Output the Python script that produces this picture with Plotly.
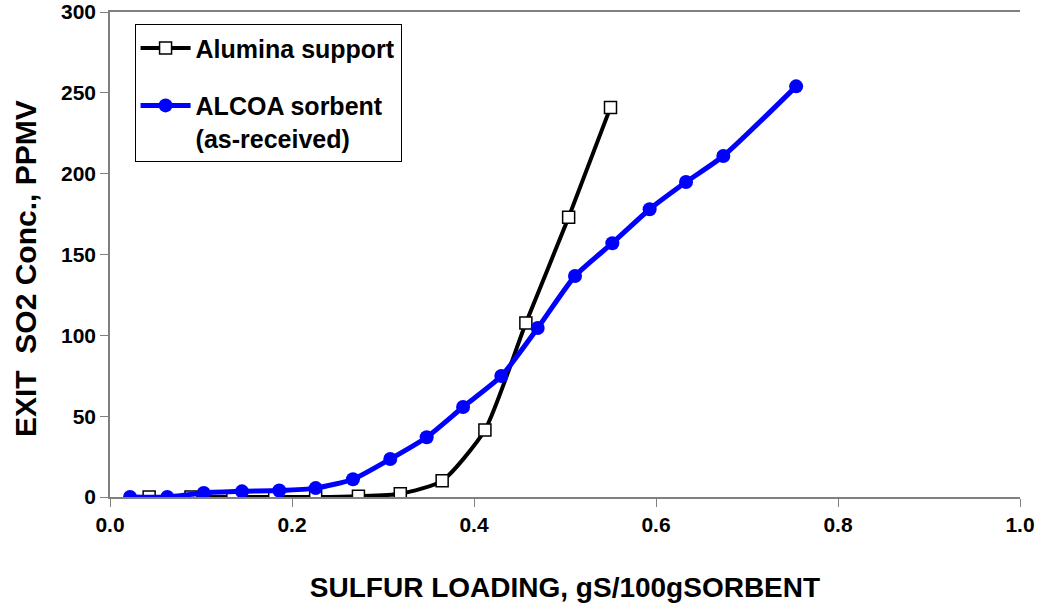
import plotly.graph_objects as go

alumina_x = [0.043, 0.089, 0.135, 0.181, 0.226, 0.273, 0.319, 0.365, 0.412, 0.457, 0.504, 0.550]
alumina_y = [0.0, 0.0, 0.0, 0.0, 0.0, 0.5, 2.0, 10.0, 41.4, 107.6, 173.0, 241.0]

alcoa_x = [0.022, 0.063, 0.103, 0.145, 0.186, 0.226, 0.267, 0.308, 0.348, 0.388, 0.430,
           0.470, 0.511, 0.552, 0.593, 0.633, 0.674, 0.754]
alcoa_y = [0.0, 0.0, 2.5, 3.5, 4.0, 5.5, 11.0, 23.5, 37.0, 55.7, 74.8,
           104.5, 136.7, 157.0, 178.0, 194.8, 210.9, 254.0]

x_ticks = [0.0, 0.2, 0.4, 0.6, 0.8, 1.0]
x_labels = ["0.0", "0.2", "0.4", "0.6", "0.8", "1.0"]
y_ticks = [0, 50, 100, 150, 200, 250, 300]

x_title = "SULFUR LOADING, gS/100gSORBENT"
y_title = "EXIT  SO2 Conc., PPMV"

FONT = "Liberation Sans, Arial, sans-serif"

fig = go.Figure()
fig.add_trace(go.Scatter(
    x=alumina_x, y=alumina_y, mode="lines+markers", name="<b>Alumina support</b>",
    legendgroup="a",
    line=dict(color="black", width=4, shape="spline", smoothing=0.6),
    marker=dict(symbol="square", size=12, color="white", line=dict(color="black", width=1.5)),
))
fig.add_trace(go.Scatter(
    x=alcoa_x, y=alcoa_y, mode="lines+markers", name="<b>ALCOA sorbent<br>(as-received)</b>",
    legendgroup="b",
    line=dict(color="#0000FF", width=5, shape="spline", smoothing=0.6),
    marker=dict(symbol="circle", size=14, color="#0000FF"),
))

fig.update_layout(
    width=1043, height=610,
    margin=dict(l=110, r=23, t=12, b=113),
    paper_bgcolor="white", plot_bgcolor="white",
    font=dict(family=FONT, color="black"),
    showlegend=True,
    legend=dict(
        x=0.027, y=0.975, xanchor="left", yanchor="top",
        bordercolor="black", borderwidth=1, bgcolor="white",
        font=dict(family=FONT, size=25, color="black"),
        traceorder="grouped", tracegroupgap=22, valign="top",
        itemwidth=50,
    ),
    xaxis=dict(
        range=[0, 1.0], tickvals=x_ticks, ticktext=x_labels,
        showgrid=False, zeroline=False, automargin=False,
        showline=True, linecolor="#808080", linewidth=1.5, mirror=True,
        ticks="outside", ticklen=8, tickcolor="#808080",
        tickfont=dict(family=FONT, size=21, color="black", weight="bold"),
        title=dict(text="<b>" + x_title + "</b>",
                   font=dict(family=FONT, size=28, color="black"), standoff=42),
    ),
    yaxis=dict(
        range=[0, 300], tickvals=y_ticks,
        showgrid=False, zeroline=False, automargin=False,
        showline=True, linecolor="#808080", linewidth=1.5,
        ticks="outside", ticklen=8, tickcolor="#808080",
        tickfont=dict(family=FONT, size=21, color="black", weight="bold"),
    ),
    annotations=[dict(
        text="<b>" + y_title + "</b>", textangle=-90,
        xref="paper", yref="paper", x=-0.0934, y=0.47,
        xanchor="center", yanchor="middle", showarrow=False,
        font=dict(family=FONT, size=30, color="black"),
    )],
)

fig.write_html("out.html")
